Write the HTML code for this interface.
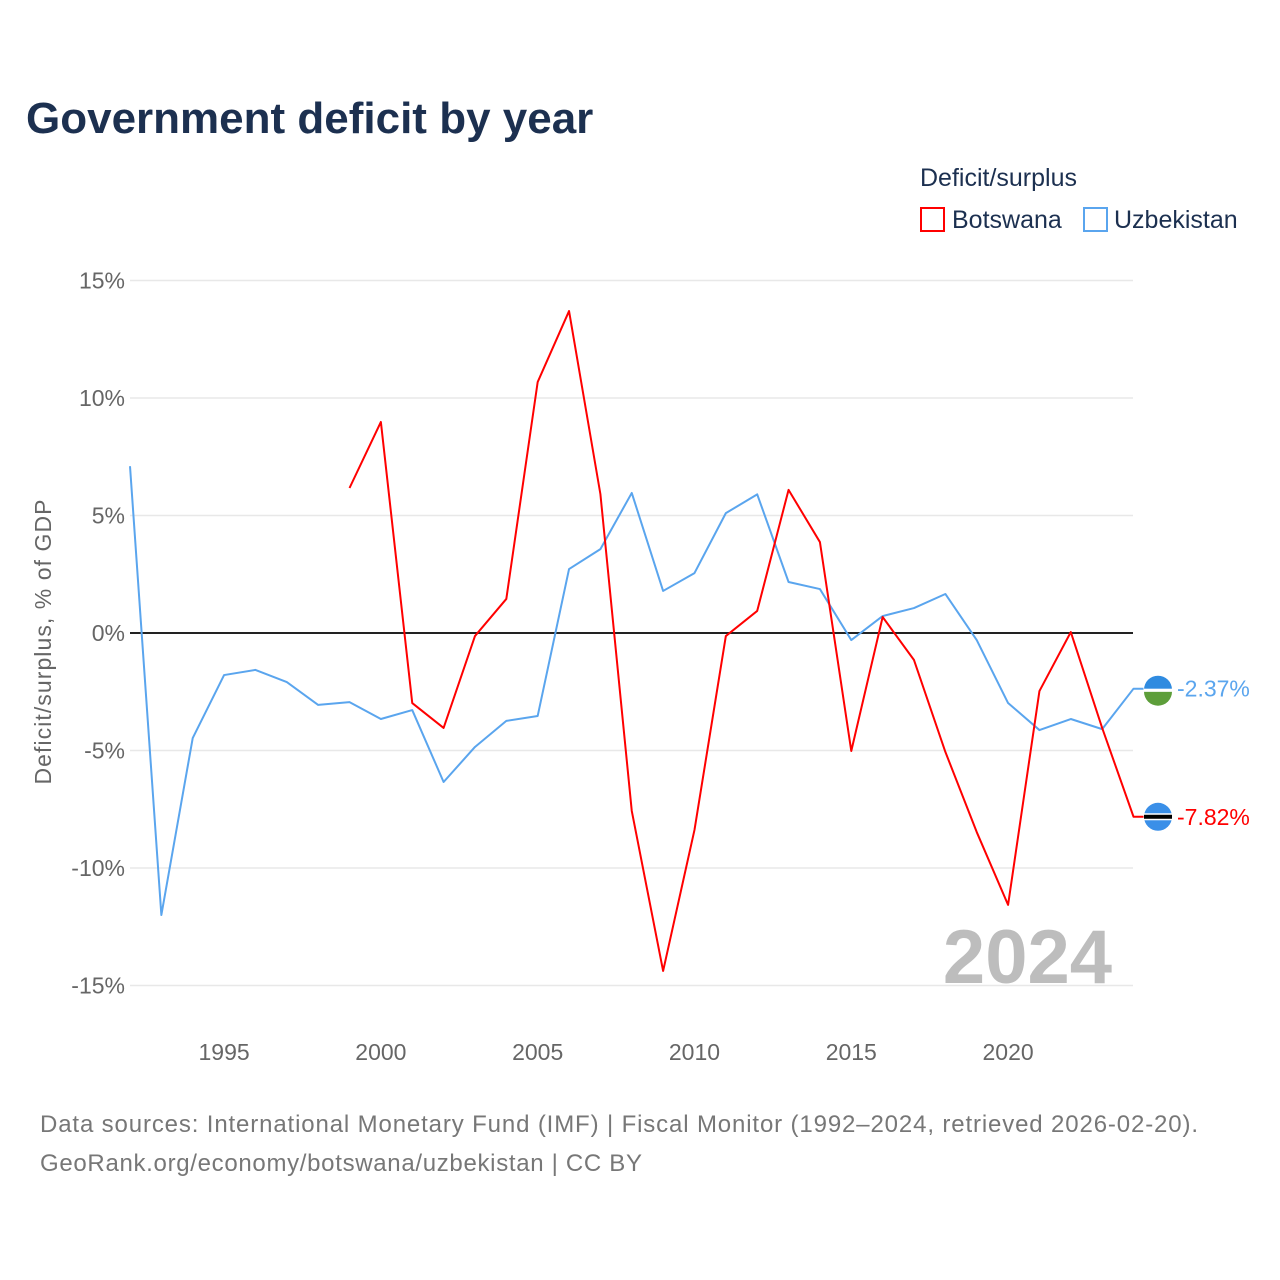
<!DOCTYPE html>
<html><head><meta charset="utf-8"><style>
body{margin:0;background:#fff;}
svg{display:block;font-family:"Liberation Sans",sans-serif;}
</style></head><body>
<svg id="c" width="1280" height="1280" viewBox="0 0 1280 1280">
<text x="26" y="133" font-size="44" font-weight="bold" fill="#1c3050">Government deficit by year</text>
<text x="920" y="186" font-size="25" fill="#1c3050">Deficit/surplus</text>
<g><rect x="921" y="208" width="23" height="23" fill="none" stroke="#f00" stroke-width="2"/><text x="952" y="228" font-size="25" fill="#1c3050">Botswana</text></g>
<g><rect x="1084" y="208" width="23" height="23" fill="none" stroke="#5aa5ee" stroke-width="2"/><text x="1114" y="228" font-size="25" fill="#1c3050">Uzbekistan</text></g>
<g id="grid"></g><g id="yt"></g><g id="xt"></g>
<text x="1112" y="983" font-size="76" font-weight="bold" fill="#bdbdbd" text-anchor="end">2024</text>
<text transform="translate(51,642) rotate(-90)" font-size="23" fill="#666" text-anchor="middle" textLength="285">Deficit/surplus, % of GDP</text>
<g id="lines"></g>
<text x="40" y="1132" font-size="24" fill="#777" textLength="1158">Data sources: International Monetary Fund (IMF) | Fiscal Monitor (1992–2024, retrieved 2026-02-20).</text>
<text x="40" y="1171" font-size="24" fill="#777" textLength="602">GeoRank.org/economy/botswana/uzbekistan | CC BY</text>
</svg>
<script>
const yTicks=[15,10,5,0,-5,-10,-15];
const xTicks=[1995,2000,2005,2010,2015,2020];
const uzYears=[1992,1993,1994,1995,1996,1997,1998,1999,2000,2001,2002,2003,2004,2005,2006,2007,2008,2009,2010,2011,2012,2013,2014,2015,2016,2017,2018,2019,2020,2021,2022,2023,2024];
const uzValues=[7.1,-12.0,-4.47,-1.79,-1.57,-2.09,-3.06,-2.94,-3.66,-3.28,-6.34,-4.85,-3.74,-3.53,2.72,3.57,5.96,1.79,2.55,5.1,5.9,2.17,1.87,-0.3,0.72,1.06,1.66,-0.3,-2.98,-4.13,-3.66,-4.09,-2.37];
const bwYears=[1999,2000,2001,2002,2003,2004,2005,2006,2007,2008,2009,2010,2011,2012,2013,2014,2015,2016,2017,2018,2019,2020,2021,2022,2023,2024];
const bwValues=[6.17,8.98,-2.98,-4.04,-0.13,1.45,10.68,13.7,5.91,-7.57,-14.38,-8.38,-0.13,0.94,6.09,3.87,-5.02,0.68,-1.15,-5.06,-8.47,-11.57,-2.47,0.04,-4.04,-7.82];
const X=y=>130+(y-1992)*31.36, Y=v=>633-v*23.5;
const NS="http://www.w3.org/2000/svg";
function mk(t,a,p){const e=document.createElementNS(NS,t);for(const k in a)e.setAttribute(k,a[k]);p.appendChild(e);return e;}
const g=document.getElementById('grid'),yt=document.getElementById('yt'),xt=document.getElementById('xt'),L=document.getElementById('lines');
yTicks.forEach(v=>{
 const l=mk('line',{x1:130,x2:1133,y1:Y(v),y2:Y(v),stroke:v===0?'#222':'#e8e8e8','stroke-width':v===0?2:1.5},g);
 
 
 const t=mk('text',{x:125,y:Y(v)+8,'font-size':23,fill:'#666','text-anchor':'end'},yt);t.textContent=v+'%';
 
 
});
xTicks.forEach(v=>{
 const t=mk('text',{x:X(v),y:1060,'font-size':23,fill:'#666','text-anchor':'middle'},xt);t.textContent=v;
 
 
});
function series(ys,vs,col,name){
 const pts=ys.map((y,i)=>X(y)+','+Y(vs[i]));
 const last=vs[vs.length-1];
 pts.push((X(ys[ys.length-1])+10)+','+Y(last));
 const p=mk('polyline',{points:pts.join(' '),fill:'none',stroke:col,'stroke-width':2,'stroke-linejoin':'round'},L);
 
 
 return last;
}
const uzLast=series(uzYears,uzValues,'#5aa5ee','uzbekistan');
const bwLast=series(bwYears,bwValues,'#f00','botswana');
const fu=mk('g',{},L);


const cy1=Y(uzLast)+1;
mk('path',{d:`M1144 ${cy1} a14 14 0 0 1 28 0 z`,fill:'#2f8be0'},fu);
mk('path',{d:`M1144 ${cy1+2} a14 14 0 0 0 28 0 z`,fill:'#5d9e3a'},fu);
mk('rect',{x:1144,y:cy1-1,width:28,height:3,fill:'#fff'},fu);
const fb=mk('g',{},L);


const cy2=Y(bwLast);
mk('circle',{cx:1158,cy:cy2,r:14,fill:'#3a8fe8'},fb);
mk('rect',{x:1144,y:cy2-3.5,width:28,height:7,fill:'#fff'},fb);
mk('rect',{x:1144,y:cy2-2,width:28,height:4,fill:'#000'},fb);
const t1=mk('text',{x:1177,y:Y(uzLast)+8,'font-size':23,fill:'#5aa5ee'},L);t1.textContent=uzLast.toFixed(2)+'%';


const t2=mk('text',{x:1177,y:Y(bwLast)+8,'font-size':23,fill:'#f00'},L);t2.textContent=bwLast.toFixed(2)+'%';


</script>
</body></html>
